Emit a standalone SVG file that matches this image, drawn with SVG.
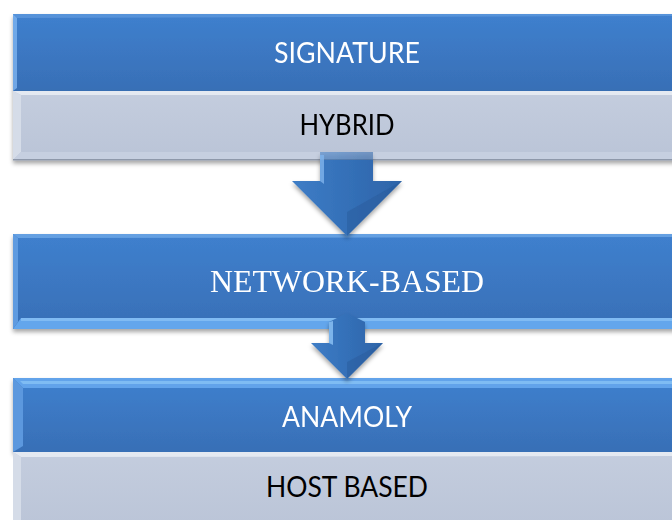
<svg xmlns="http://www.w3.org/2000/svg" width="672" height="520" viewBox="0 0 672 520">
<defs>
<linearGradient id="blue" x1="0" y1="0" x2="0" y2="1">
<stop offset="0" stop-color="#3F80CE"/>
<stop offset="1" stop-color="#386FB6"/>
</linearGradient>
<linearGradient id="gray" x1="0" y1="0" x2="0" y2="1">
<stop offset="0" stop-color="#C4CDDE"/>
<stop offset="1" stop-color="#BAC4D7"/>
</linearGradient>
<linearGradient id="arrowg" x1="0" y1="0" x2="1" y2="0">
<stop offset="0" stop-color="#3E7DC6"/>
<stop offset="0.5" stop-color="#3470B8"/>
<stop offset="1" stop-color="#2E64A8"/>
</linearGradient>
<filter id="shadow" x="-5%" y="-10%" width="115%" height="130%">
<feDropShadow dx="0" dy="3" stdDeviation="2" flood-color="#000" flood-opacity="0.35"/>
</filter>
</defs>
<style>
.blue{fill:url(#blue)}
.gray{fill:url(#gray)}
.hiB{fill:#7DB4F0;opacity:0.8}
.hiG{fill:#E4E9F1}
.wt{fill:#FFFFFF;font-family:Lato,"Open Sans",sans-serif;font-size:28px;text-anchor:middle}
.bk{fill:#000000;font-family:Lato,"Open Sans",sans-serif;font-size:28px;text-anchor:middle}
.serif{fill:#FFFFFF;font-family:"Liberation Serif","Times New Roman",serif;font-size:32px;text-anchor:middle}
.arrow{fill:url(#arrowg)}
</style>
<rect width="672" height="520" fill="#FFFFFF"/>

<g id="node-signature" filter="url(#shadow)">
<rect class="blue" x="13" y="14" width="690" height="77"/>
<polygon class="hiB" points="13,14 17,18 17,88 13,91"/>
<polygon fill="#6FA6E6" opacity="0.5" points="13,14 703,14 703,16 17,18"/>
<text class="wt" x="347" y="63" textLength="146" lengthAdjust="spacingAndGlyphs">SIGNATURE</text>
</g>

<g id="node-hybrid" filter="url(#shadow)">
<rect class="gray" x="13" y="91" width="690" height="69"/>
<polygon class="hiG" points="13,91 703,91 703,95 21,95"/>
<polygon fill="#D5DCE8" points="13,91 21,95 21,152 13,160"/>
<polygon fill="#C6CFE0" points="13,160 21,152 703,152 703,160"/>
<rect x="13" y="159" width="690" height="1.5" fill="#8E98AA"/>
<text class="bk" x="347" y="135" textLength="95" lengthAdjust="spacingAndGlyphs">HYBRID</text>
</g>

<g id="node-network" filter="url(#shadow)">
<rect class="blue" x="13" y="234" width="690" height="95"/>
<polygon fill="#7FB6F0" opacity="0.6" points="13,234 703,234 703,237 18,238"/>
<polygon fill="#5E9BE0" points="13,234 18,238 18,322 13,329"/>
<polygon fill="#64A6EC" points="13,329 21,318 703,318 703,329"/>
<polygon fill="#8CC4F6" opacity="0.7" points="21,318 703,318 703,321 21,321"/>
<text class="serif" x="347" y="292" textLength="274" lengthAdjust="spacingAndGlyphs">NETWORK-BASED</text>
</g>

<g id="node-anamoly" filter="url(#shadow)">
<rect class="blue" x="13" y="378" width="690" height="74"/>
<polygon fill="#62A3EA" points="13,378 703,378 703,388 23,388"/>
<polygon fill="#8CC6F7" opacity="0.7" points="20,381 703,381 703,384 23,384"/>
<polygon fill="#5B98DE" points="13,378 23,388 23,446 13,452"/>
<text class="wt" x="347" y="427" textLength="130" lengthAdjust="spacingAndGlyphs">ANAMOLY</text>
</g>

<g id="node-host">
<rect class="gray" x="13" y="452" width="690" height="80"/>
<polygon class="hiG" points="13,452 703,452 703,456 21,457"/>
<polygon fill="#D5DCE8" points="13,452 21,457 21,520 13,520"/>
<text class="bk" x="347" y="497" textLength="162" lengthAdjust="spacingAndGlyphs">HOST BASED</text>
</g>

<g id="connectors">
<g id="arrow-1" filter="url(#shadow)">
<polygon class="arrow" opacity="0.55" points="320,152 373,152 373,160 320,160"/>
<polygon class="arrow" points="320,160 373,160 373,181 402,181 347,236 292,181 320,181"/>
<polygon fill="#7FB4EC" opacity="0.8" points="320,155 324,155 324,184 320,181"/>
<polygon fill="#2A5C9C" opacity="0.5" points="347,236 347,212 402,181"/>
</g>
<g id="arrow-2" filter="url(#shadow)">
<polygon class="arrow" points="347,313 365,322 365,343 383,343 347,379 311,343 329,343 329,322"/>
<polygon fill="#8CC4F6" opacity="0.8" points="329,322 333,321 333,345 329,343"/>
<polygon fill="#2A5C9C" opacity="0.5" points="347,379 347,362 383,343"/>
</g>
</g>
</svg>
